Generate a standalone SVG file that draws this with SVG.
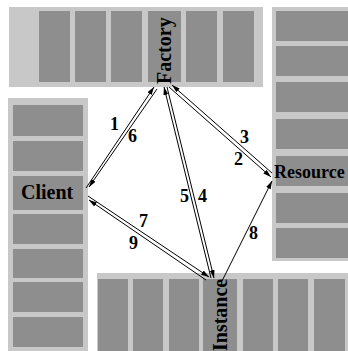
<svg xmlns="http://www.w3.org/2000/svg" width="348" height="351" viewBox="0 0 348 351">
<style>
.outer{fill:#c8c8c8}
.cell{fill:#8e8e8e}
.name{font-family:"Liberation Serif",serif;font-weight:bold;font-size:20px;fill:#000}
.num{font-family:"Liberation Serif",serif;font-weight:bold;font-size:18px;fill:#000}
.conn line{stroke:#000;stroke-width:1;marker-end:url(#ah)}
</style>
<defs>
<marker id="ah" markerUnits="userSpaceOnUse" markerWidth="8" markerHeight="6" refX="8" refY="2.5" orient="auto">
<path d="M0,0 L8,2.5 L0,5 z" fill="#000"/>
</marker>
</defs>
<rect width="348" height="351" fill="#fff"/>
<g id="factory">
<rect class="outer" x="9" y="7" width="254" height="80"/>
<rect class="cell" x="39" y="11" width="31" height="71"/>
<rect class="cell" x="75" y="11" width="31" height="71"/>
<rect class="cell" x="111" y="11" width="31" height="71"/>
<rect class="cell" x="148" y="11" width="33" height="71"/>
<rect class="cell" x="186" y="11" width="31" height="71"/>
<rect class="cell" x="223" y="11" width="31" height="71"/>
<text class="name" transform="translate(171,84) rotate(-90)">Factory</text>
</g>
<g id="resource">
<rect class="outer" x="272" y="7" width="80" height="254"/>
<rect class="cell" x="276" y="11" width="76" height="30"/>
<rect class="cell" x="276" y="46" width="76" height="30"/>
<rect class="cell" x="276" y="82" width="76" height="30"/>
<rect class="cell" x="276" y="119" width="76" height="30"/>
<rect class="cell" x="276" y="156" width="76" height="30"/>
<rect class="cell" x="276" y="193" width="76" height="30"/>
<rect class="cell" x="276" y="228" width="76" height="30"/>
<text class="name" x="274" y="178" style="font-size:18px">Resource</text>
</g>
<g id="client">
<rect class="outer" x="8" y="98" width="80" height="260"/>
<rect class="cell" x="13" y="105" width="70" height="31"/>
<rect class="cell" x="13" y="141" width="70" height="30"/>
<rect class="cell" x="13" y="176" width="70" height="34"/>
<rect class="cell" x="13" y="214" width="70" height="30"/>
<rect class="cell" x="13" y="249" width="70" height="29"/>
<rect class="cell" x="13" y="282" width="70" height="30"/>
<rect class="cell" x="13" y="317" width="70" height="30"/>
<text class="name" x="21" y="199">Client</text>
</g>
<g id="instance">
<rect class="outer" x="97" y="273" width="260" height="90"/>
<rect class="cell" x="98" y="279" width="30" height="80"/>
<rect class="cell" x="133" y="279" width="30" height="80"/>
<rect class="cell" x="169" y="279" width="30" height="80"/>
<rect class="cell" x="203" y="279" width="34" height="80"/>
<rect class="cell" x="243" y="279" width="30" height="80"/>
<rect class="cell" x="278" y="279" width="30" height="80"/>
<rect class="cell" x="314" y="279" width="31" height="80"/>
<text class="name" transform="translate(227,351) rotate(-90)">Instance</text>
</g>
<g id="connectors" class="conn">
<line x1="86" y1="188" x2="154" y2="87"/>
<line x1="157" y1="89" x2="89" y2="187"/>
<line x1="272" y1="173" x2="172" y2="85"/>
<line x1="169" y1="87" x2="271" y2="177"/>
<line x1="211" y1="278" x2="164" y2="87"/>
<line x1="167" y1="87" x2="214" y2="278"/>
<line x1="88" y1="196" x2="209" y2="277"/>
<line x1="206" y1="280" x2="89" y2="200"/>
<line x1="222" y1="281" x2="272" y2="181"/>
</g>
<g id="labels">
<text class="num" x="110" y="130">1</text>
<text class="num" x="128" y="142">6</text>
<text class="num" x="240" y="143">3</text>
<text class="num" x="234" y="165">2</text>
<text class="num" x="180" y="202">5</text>
<text class="num" x="198" y="202">4</text>
<text class="num" x="139" y="227">7</text>
<text class="num" x="129" y="249">9</text>
<text class="num" x="249" y="239">8</text>
</g>
</svg>
